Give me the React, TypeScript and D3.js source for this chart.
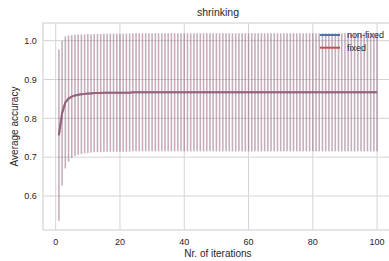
import React from "react";
import * as d3 from "d3";

const title = "shrinking";
const xLabel = "Nr. of iterations";
const yLabel = "Average accuracy";
const xTicks = [0, 20, 40, 60, 80, 100];
const yTicks = [0.6, 0.7, 0.8, 0.9, 1.0];
const seriesNames = ["non-fixed", "fixed"];
const seriesColors = ["#4C72B0", "#C44E52"];

const nonFixedMean = [
  0.757, 0.814, 0.841, 0.851, 0.856, 0.859, 0.861, 0.862, 0.863, 0.864,
  0.864, 0.865, 0.865, 0.865, 0.866, 0.866, 0.866, 0.866, 0.866, 0.866,
  0.866, 0.866, 0.866, 0.867, 0.867, 0.867, 0.867, 0.867, 0.867, 0.867,
  0.867, 0.867, 0.867, 0.867, 0.867, 0.867, 0.867, 0.867, 0.867, 0.867,
  0.867, 0.867, 0.867, 0.867, 0.867, 0.867, 0.867, 0.867, 0.867, 0.867,
  0.867, 0.867, 0.867, 0.867, 0.867, 0.867, 0.867, 0.867, 0.867, 0.867,
  0.867, 0.867, 0.867, 0.867, 0.867, 0.867, 0.867, 0.867, 0.867, 0.867,
  0.867, 0.867, 0.867, 0.867, 0.867, 0.867, 0.867, 0.867, 0.867, 0.867,
  0.867, 0.867, 0.867, 0.867, 0.867, 0.867, 0.867, 0.867, 0.867, 0.867,
  0.867, 0.867, 0.867, 0.867, 0.867, 0.867, 0.867, 0.867, 0.867, 0.867,
];
const nonFixedStd = [
  0.220, 0.186, 0.170, 0.162, 0.158, 0.156, 0.155, 0.154, 0.153, 0.153,
  0.152, 0.152, 0.152, 0.152, 0.152, 0.152, 0.152, 0.152, 0.152, 0.152,
  0.152, 0.152, 0.152, 0.152, 0.152, 0.152, 0.152, 0.152, 0.152, 0.152,
  0.152, 0.152, 0.152, 0.152, 0.152, 0.152, 0.152, 0.152, 0.152, 0.152,
  0.152, 0.152, 0.152, 0.152, 0.152, 0.152, 0.152, 0.152, 0.152, 0.152,
  0.152, 0.152, 0.152, 0.152, 0.152, 0.152, 0.152, 0.152, 0.152, 0.152,
  0.152, 0.152, 0.152, 0.152, 0.152, 0.152, 0.152, 0.152, 0.152, 0.152,
  0.152, 0.152, 0.152, 0.152, 0.152, 0.152, 0.152, 0.152, 0.152, 0.152,
  0.152, 0.152, 0.152, 0.152, 0.152, 0.152, 0.152, 0.152, 0.152, 0.152,
  0.152, 0.152, 0.152, 0.152, 0.152, 0.152, 0.152, 0.152, 0.152, 0.152,
];
const fixedMean = [
  0.756, 0.813, 0.841, 0.851, 0.856, 0.859, 0.861, 0.862, 0.863, 0.864,
  0.864, 0.865, 0.865, 0.865, 0.866, 0.866, 0.866, 0.866, 0.866, 0.866,
  0.866, 0.866, 0.866, 0.867, 0.867, 0.867, 0.867, 0.867, 0.867, 0.867,
  0.867, 0.867, 0.867, 0.867, 0.867, 0.867, 0.867, 0.867, 0.867, 0.867,
  0.867, 0.867, 0.867, 0.867, 0.867, 0.867, 0.867, 0.867, 0.867, 0.867,
  0.867, 0.867, 0.867, 0.867, 0.867, 0.867, 0.867, 0.867, 0.867, 0.867,
  0.867, 0.867, 0.867, 0.867, 0.867, 0.867, 0.867, 0.867, 0.867, 0.867,
  0.867, 0.867, 0.867, 0.867, 0.867, 0.867, 0.867, 0.867, 0.867, 0.867,
  0.867, 0.867, 0.867, 0.867, 0.867, 0.867, 0.867, 0.867, 0.867, 0.867,
  0.867, 0.867, 0.867, 0.867, 0.867, 0.867, 0.867, 0.867, 0.867, 0.867,
];
const fixedStd = [
  0.221, 0.186, 0.170, 0.162, 0.158, 0.156, 0.155, 0.154, 0.153, 0.153,
  0.152, 0.152, 0.152, 0.152, 0.152, 0.152, 0.152, 0.152, 0.152, 0.152,
  0.152, 0.152, 0.152, 0.152, 0.152, 0.152, 0.152, 0.152, 0.152, 0.152,
  0.152, 0.152, 0.152, 0.152, 0.152, 0.152, 0.152, 0.152, 0.152, 0.152,
  0.152, 0.152, 0.152, 0.152, 0.152, 0.152, 0.152, 0.152, 0.152, 0.152,
  0.152, 0.152, 0.152, 0.152, 0.152, 0.152, 0.152, 0.152, 0.152, 0.152,
  0.152, 0.152, 0.152, 0.152, 0.152, 0.152, 0.152, 0.152, 0.152, 0.152,
  0.152, 0.152, 0.152, 0.152, 0.152, 0.152, 0.152, 0.152, 0.152, 0.152,
  0.152, 0.152, 0.152, 0.152, 0.152, 0.152, 0.152, 0.152, 0.152, 0.152,
  0.152, 0.152, 0.152, 0.152, 0.152, 0.152, 0.152, 0.152, 0.152, 0.152,
];

const W = 389;
const H = 261;
const margin = { left: 43, right: -4, top: 23, bottom: 31 };
const font = "'Liberation Sans', Arial, sans-serif";
const textColor = "#262626";
const gridColor = "#d4d4d4";

export default function App() {
  const x = d3
    .scaleLinear()
    .domain([-3.95, 104.95])
    .range([margin.left, W - margin.right]);
  const y = d3
    .scaleLinear()
    .domain([0.5125, 1.0455])
    .range([H - margin.bottom, margin.top]);

  const series = [
    { name: seriesNames[0], color: seriesColors[0], mean: nonFixedMean, std: nonFixedStd, barOpacity: 0.3, lineOpacity: 0.9 },
    { name: seriesNames[1], color: seriesColors[1], mean: fixedMean, std: fixedStd, barOpacity: 0.3, lineOpacity: 0.6 },
  ];

  const line = d3
    .line<number>()
    .x((_, i) => x(i + 1))
    .y((d) => y(d));

  const x0 = margin.left;
  const x1 = W - margin.right;
  const y0 = margin.top;
  const y1 = H - margin.bottom;

  return (
    <svg
      width={W}
      height={H}
      style={{ position: "absolute", left: 0, top: 0, background: "#fff" }}
      fontFamily={font}
    >
      <defs>
        <clipPath id="plot">
          <rect x={x0} y={y0} width={x1 - x0} height={y1 - y0} />
        </clipPath>
      </defs>
      <rect x={0} y={0} width={W} height={H} fill="#fff" />
      {xTicks.map((t) => (
        <line key={"gx" + t} x1={x(t)} x2={x(t)} y1={y0} y2={y1} stroke={gridColor} strokeWidth={1} />
      ))}
      {yTicks.map((t) => (
        <line key={"gy" + t} x1={x0} x2={x1} y1={y(t)} y2={y(t)} stroke={gridColor} strokeWidth={1} />
      ))}
      <rect x={x0} y={y0} width={x1 - x0} height={y1 - y0} fill="none" stroke={gridColor} strokeWidth={1.2} />
      <g clipPath="url(#plot)">
        {series.map((s) => (
          <g key={"eb" + s.name}>
            {s.mean.map((m, i) => (
              <line
                key={i}
                x1={x(i + 1)}
                x2={x(i + 1)}
                y1={y(m - s.std[i])}
                y2={y(m + s.std[i])}
                stroke={s.color}
                strokeOpacity={s.barOpacity}
                strokeWidth={1.5}
              />
            ))}
          </g>
        ))}
        {series.map((s) => (
          <path
            key={"ln" + s.name}
            d={line(s.mean) || ""}
            fill="none"
            stroke={s.color}
            strokeOpacity={s.lineOpacity}
            strokeWidth={2}
          />
        ))}
      </g>
      {xTicks.map((t) => (
        <text key={"tx" + t} x={x(t)} y={y1 + 15} textAnchor="middle" fontSize={9} fill={textColor}>
          {t}
        </text>
      ))}
      {yTicks.map((t) => (
        <text key={"ty" + t} x={x0 - 6.3} y={y(t) + 3.3} textAnchor="end" fontSize={9} fill={textColor}>
          {t.toFixed(1)}
        </text>
      ))}
      <text x={(x0 + x1) / 2} y={y1 + 26.5} textAnchor="middle" fontSize={10} fill={textColor}>
        {xLabel}
      </text>
      <text
        transform={`translate(${18},${(y0 + y1) / 2}) rotate(-90)`}
        textAnchor="middle"
        fontSize={10}
        fill={textColor}
      >
        {yLabel}
      </text>
      <text x={(x0 + x1) / 2} y={16} textAnchor="middle" fontSize={10.5} fill={textColor}>
        {title}
      </text>
      {series.map((s, i) => (
        <g key={"lg" + s.name}>
          <line x1={320} x2={340} y1={35 + i * 12.7} y2={35 + i * 12.7} stroke={s.color} strokeWidth={2} />
          <text x={347} y={35 + i * 12.7 + 3} fontSize={9} fill={textColor}>
            {s.name}
          </text>
        </g>
      ))}
    </svg>
  );
}
